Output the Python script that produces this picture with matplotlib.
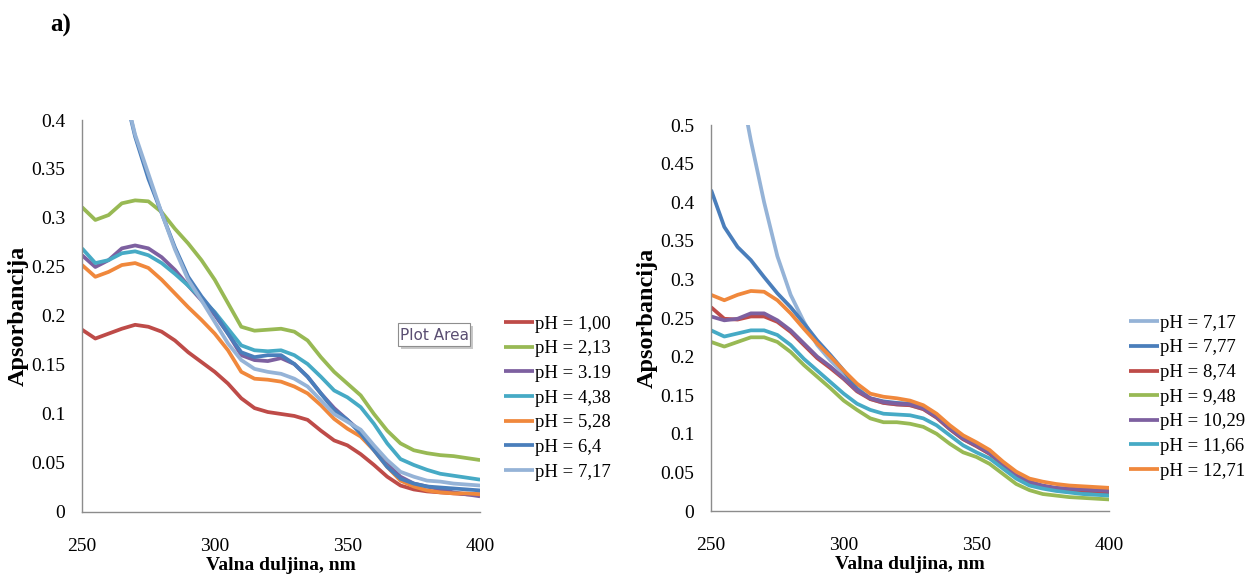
import matplotlib
matplotlib.use('Agg')
import matplotlib.pyplot as plt
from matplotlib.patches import Rectangle
from matplotlib.ticker import FuncFormatter

# wavelength grid (nm)
wl = [250, 255, 260, 265, 270, 275, 280, 285, 290, 295, 300, 305, 310, 315, 320, 325,
      330, 335, 340, 345, 350, 355, 360, 365, 370, 375, 380, 385, 390, 395, 400]

# left panel: acidic range
left_labels = ['pH = 1,00', 'pH = 2,13', 'pH = 3.19', 'pH = 4,38', 'pH = 5,28', 'pH = 6,4', 'pH = 7,17']
ph_100 = [0.186, 0.177, 0.182, 0.187, 0.191, 0.189, 0.184, 0.175, 0.163, 0.153, 0.143, 0.131, 0.116, 0.106, 0.102, 0.100,
          0.098, 0.094, 0.083, 0.073, 0.068, 0.059, 0.048, 0.036, 0.027, 0.023, 0.021, 0.020, 0.019, 0.018, 0.018]
ph_213 = [0.311, 0.298, 0.303, 0.315, 0.318, 0.317, 0.306, 0.289, 0.274, 0.257, 0.237, 0.213, 0.189, 0.185, 0.186, 0.187,
          0.184, 0.175, 0.158, 0.143, 0.131, 0.119, 0.100, 0.083, 0.070, 0.063, 0.060, 0.058, 0.057, 0.055, 0.053]
ph_319 = [0.262, 0.250, 0.257, 0.269, 0.272, 0.269, 0.260, 0.247, 0.231, 0.216, 0.201, 0.182, 0.160, 0.155, 0.154, 0.157,
          0.151, 0.138, 0.121, 0.106, 0.094, 0.082, 0.066, 0.049, 0.036, 0.029, 0.026, 0.023, 0.020, 0.018, 0.016]
ph_438 = [0.269, 0.254, 0.257, 0.264, 0.266, 0.262, 0.254, 0.243, 0.231, 0.218, 0.204, 0.187, 0.170, 0.165, 0.164, 0.165,
          0.160, 0.151, 0.138, 0.124, 0.117, 0.107, 0.090, 0.070, 0.054, 0.048, 0.043, 0.039, 0.037, 0.035, 0.033]
ph_528 = [0.252, 0.240, 0.245, 0.252, 0.254, 0.249, 0.237, 0.223, 0.209, 0.196, 0.182, 0.165, 0.143, 0.136, 0.135, 0.133,
          0.128, 0.121, 0.109, 0.095, 0.085, 0.077, 0.063, 0.046, 0.032, 0.026, 0.022, 0.020, 0.019, 0.019, 0.018]
ph_64 = [0.600, 0.540, 0.490, 0.440, 0.383, 0.340, 0.305, 0.270, 0.240, 0.220, 0.203, 0.182, 0.163, 0.158, 0.160, 0.160,
         0.151, 0.138, 0.121, 0.104, 0.094, 0.080, 0.063, 0.046, 0.034, 0.029, 0.026, 0.025, 0.024, 0.023, 0.022]
ph_717a = [0.630, 0.560, 0.500, 0.440, 0.385, 0.345, 0.305, 0.268, 0.237, 0.216, 0.194, 0.172, 0.155, 0.146, 0.143, 0.141,
           0.136, 0.128, 0.114, 0.100, 0.092, 0.084, 0.068, 0.053, 0.041, 0.036, 0.032, 0.031, 0.029, 0.028, 0.027]

# right panel: basic range
right_labels = ['pH = 7,17', 'pH = 7,77', 'pH = 8,74', 'pH = 9,48', 'pH = 10,29', 'pH = 11,66', 'pH = 12,71']
ph_717b = [0.750, 0.660, 0.570, 0.480, 0.400, 0.330, 0.280, 0.245, 0.215, 0.195, 0.178, 0.160, 0.145, 0.140, 0.138, 0.137,
           0.132, 0.121, 0.106, 0.093, 0.084, 0.074, 0.060, 0.045, 0.037, 0.032, 0.029, 0.028, 0.027, 0.026, 0.025]
ph_777 = [0.416, 0.368, 0.342, 0.325, 0.303, 0.282, 0.264, 0.243, 0.221, 0.202, 0.182, 0.158, 0.146, 0.142, 0.140, 0.139,
          0.133, 0.122, 0.107, 0.094, 0.085, 0.075, 0.060, 0.045, 0.036, 0.031, 0.027, 0.025, 0.024, 0.023, 0.022]
ph_874 = [0.264, 0.249, 0.248, 0.252, 0.252, 0.245, 0.232, 0.215, 0.198, 0.185, 0.171, 0.155, 0.145, 0.140, 0.138, 0.137,
          0.132, 0.121, 0.106, 0.093, 0.084, 0.074, 0.060, 0.045, 0.037, 0.032, 0.029, 0.028, 0.027, 0.026, 0.025]
ph_948 = [0.219, 0.213, 0.219, 0.225, 0.225, 0.219, 0.206, 0.189, 0.174, 0.159, 0.143, 0.131, 0.120, 0.115, 0.115, 0.113,
          0.109, 0.100, 0.087, 0.076, 0.070, 0.061, 0.048, 0.035, 0.027, 0.022, 0.020, 0.018, 0.017, 0.016, 0.015]
ph_1029 = [0.252, 0.247, 0.249, 0.256, 0.256, 0.247, 0.234, 0.217, 0.200, 0.187, 0.172, 0.156, 0.146, 0.141, 0.139, 0.138,
           0.133, 0.122, 0.107, 0.094, 0.085, 0.075, 0.061, 0.046, 0.038, 0.033, 0.030, 0.029, 0.028, 0.027, 0.026]
ph_1166 = [0.234, 0.226, 0.230, 0.234, 0.234, 0.228, 0.215, 0.197, 0.182, 0.167, 0.152, 0.139, 0.131, 0.126, 0.125, 0.124,
           0.120, 0.111, 0.098, 0.085, 0.076, 0.068, 0.055, 0.042, 0.033, 0.029, 0.026, 0.024, 0.022, 0.021, 0.020]
ph_1271 = [0.280, 0.273, 0.280, 0.285, 0.284, 0.273, 0.256, 0.236, 0.217, 0.200, 0.182, 0.165, 0.152, 0.148, 0.146, 0.143,
           0.137, 0.126, 0.111, 0.098, 0.089, 0.079, 0.064, 0.051, 0.042, 0.038, 0.035, 0.033, 0.032, 0.031, 0.030]

RED, GREEN, PURPLE, TEAL, ORANGE, BLUE, LBLUE = '#BE4B48', '#98B954', '#7D60A0', '#46AAC5', '#F0883C', '#4A7EBB', '#95B3D7'

left_series = [ph_100, ph_213, ph_319, ph_438, ph_528, ph_64, ph_717a]
left_colors = [RED, GREEN, PURPLE, TEAL, ORANGE, BLUE, LBLUE]
right_series = [ph_717b, ph_777, ph_874, ph_948, ph_1029, ph_1166, ph_1271]
right_colors = [LBLUE, BLUE, RED, GREEN, PURPLE, TEAL, ORANGE]

plt.rcParams['font.family'] = ['Liberation Serif', 'DejaVu Serif']

fig = plt.figure(figsize=(12.47, 5.75), dpi=100)
ax1 = fig.add_axes([0.0658, 0.1096, 0.3192, 0.6817])
ax2 = fig.add_axes([0.5702, 0.1113, 0.3192, 0.6713])


def style(ax, ymax, series, colors, labels, leg_anchor):
    for y, c, lab in zip(series, colors, labels):
        ax.plot(wl, y, color=c, lw=2.7, label=lab, solid_joinstyle='round', solid_capstyle='butt')
    ax.set_xlim(250, 400)
    ax.set_ylim(0, ymax)
    ax.set_xticks([250, 300, 350, 400])
    ax.set_yticks([i * 0.05 for i in range(int(round(ymax / 0.05)) + 1)])
    ax.yaxis.set_major_formatter(FuncFormatter(lambda v, p: ('%.2f' % v).rstrip('0').rstrip('.') if v else '0'))
    for s in ['top', 'right']:
        ax.spines[s].set_visible(False)
    for s in ['left', 'bottom']:
        ax.spines[s].set_color('#8C8C8C')
        ax.spines[s].set_linewidth(1.0)
    ax.tick_params(length=0, labelsize=14)
    ax.tick_params(axis='x', pad=19)
    ax.tick_params(axis='y', pad=12)
    ax.set_xlabel('Valna duljina, nm', fontsize=14, fontweight='bold', labelpad=1)
    ax.set_ylabel('Apsorbancija', fontsize=17.5, fontweight='bold', labelpad=0)
    ax.legend(loc='upper left', bbox_to_anchor=leg_anchor, frameon=False, fontsize=13.5,
              handlelength=1.6, handletextpad=0.1, labelspacing=0.4, borderaxespad=0)


style(ax1, 0.4, left_series, left_colors, left_labels, (1.04, 0.52))
style(ax2, 0.5, right_series, right_colors, right_labels, (1.03, 0.528))
ax1.yaxis.set_label_coords(-0.135, 0.5)
ax2.yaxis.set_label_coords(-0.135, 0.5)

fig.text(0.040, 0.955, 'a)', fontsize=18, fontweight='bold', va='center')

# Excel "Plot Area" tooltip left in the screenshot
fig.patches.append(Rectangle((401 / 1247, 1 - 349 / 575), 72 / 1247, 23 / 575, transform=fig.transFigure,
                             facecolor='#C8C8C8', edgecolor='none', zorder=5))
fig.patches.append(Rectangle((398 / 1247, 1 - 346 / 575), 72 / 1247, 23 / 575, transform=fig.transFigure,
                             facecolor='white', edgecolor='#8E8E8E', lw=0.8, zorder=6))
fig.text(434 / 1247, 1 - 335 / 575, 'Plot Area', fontsize=11, family='Liberation Sans Narrow',
         color='#5A4E72', ha='center', va='center', zorder=7)

fig.savefig('out.png', dpi=100)
